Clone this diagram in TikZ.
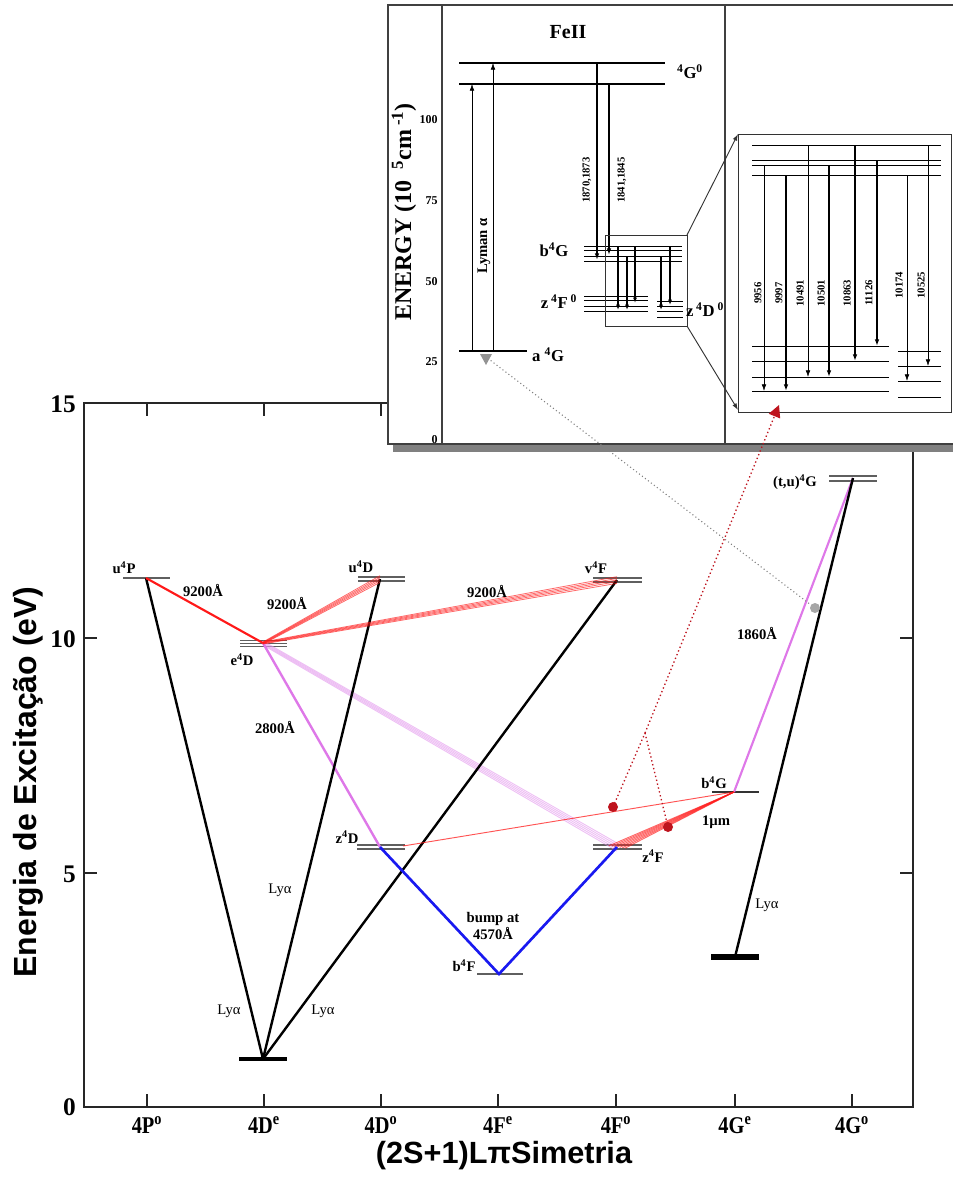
\documentclass[tikz,border=0pt]{standalone}
\usepackage{fontspec}
\setmainfont{Liberation Serif}
\newfontfamily\axfont{Liberation Sans}
\newfontfamily\condserif[FakeStretch=0.85]{Liberation Serif}
\usetikzlibrary{arrows.meta}
\definecolor{lvlgray}{RGB}{95,95,95}
\definecolor{myred}{RGB}{255,25,25}
\definecolor{myviolet}{RGB}{222,120,232}
\definecolor{lightviolet}{RGB}{226,150,236}
\definecolor{myblue}{RGB}{25,25,240}
\definecolor{dotred}{RGB}{190,20,30}
\definecolor{shadowgray}{RGB}{128,128,128}
\begin{document}
\begin{tikzpicture}[x=0.75pt,y=-0.75pt,
  lbl/.style={font=\fontsize{11}{12}\selectfont\bfseries, inner sep=0pt},
  ilbl/.style={font=\fontsize{12.5}{14}\selectfont\bfseries, inner sep=0pt},
  wl/.style={font=\fontsize{8}{9}\selectfont\bfseries, inner sep=0pt, rotate=90},
  ytl/.style={font=\fontsize{19}{20}\selectfont\bfseries, inner sep=0pt, anchor=east},
  xtl/.style={font=\condserif\fontsize{18}{20}\selectfont\bfseries, inner sep=0pt},
  itl/.style={font=\fontsize{9}{10}\selectfont\bfseries, inner sep=0pt, anchor=east},
  frame/.style={line width=1.5pt, draw=black!85},
  bar/.style={draw=lvlgray, line width=0.9pt},
  lya/.style={draw=black, line width=1.8pt},
  redband/.style={draw=myred, line width=0.6pt, opacity=0.65},
  vioband/.style={draw=lightviolet, line width=0.7pt, opacity=0.6},
  thinlev/.style={draw=black, line width=0.6pt},
  arr/.style={-{Latex[length=5pt,width=3.5pt]}},
  thinarr/.style={draw=black, line width=0.5pt, arr},
  thickarr/.style={draw=black, line width=1.4pt, arr},
]
\useasboundingbox (0,0) rectangle (953,1178);

% ---------------- main plot frame ----------------
\draw[frame] (84,403) rectangle (913,1107);
\foreach \x in {147,264,381,498,616,735,852}{
  \draw[frame, line width=1pt] (\x,1107) -- (\x,1094);
  \draw[frame, line width=1pt] (\x,403) -- (\x,416);
}
\foreach \y in {638,873}{
  \draw[frame, line width=1pt] (84,\y) -- (97,\y);
  \draw[frame, line width=1pt] (913,\y) -- (900,\y);
}
\node[ytl] (t15) at (76,404) {15};
\node[ytl] (t10) at (76,639) {10};
\node[ytl] (t5)  at (76,874) {5};
\node[ytl] (t0)  at (76,1107) {0};

\node[xtl] (x1) at (147,1125) {4P\textsuperscript{o}};
\node[xtl] (x2) at (264,1125) {4D\textsuperscript{e}};
\node[xtl] (x3) at (381,1125) {4D\textsuperscript{o}};
\node[xtl] (x4) at (498,1125) {4F\textsuperscript{e}};
\node[xtl] (x5) at (616,1125) {4F\textsuperscript{o}};
\node[xtl] (x6) at (735,1125) {4G\textsuperscript{e}};
\node[xtl] (x7) at (852,1125) {4G\textsuperscript{o}};

\node[font=\axfont\bfseries\fontsize{23}{26}\selectfont, inner sep=0pt] (xlab) at (504,1156) {(2S+1)LπSimetria};
\node[font=\axfont\bfseries\fontsize{24}{26}\selectfont, inner sep=0pt, rotate=90] (ylab) at (28,782) {Energia de Excitação (eV)};

% ---------------- level coordinates ----------------
\coordinate (u4P) at (146,578);
\coordinate (e4D) at (263,643);
\coordinate (u4D) at (380,579);
\coordinate (v4F) at (617,580);
\coordinate (z4D) at (380,847);
\coordinate (z4Dr) at (403,846);
\coordinate (z4F) at (617,847);
\coordinate (b4F) at (499,974);
\coordinate (b4G) at (734,792);
\coordinate (tu4G) at (853,478);
\coordinate (gD) at (263,1059);
\coordinate (gG) at (735,957);

% bars
\draw[bar] (123,578) -- (170,578);
\foreach \y in {640,643,646}{\draw[bar, line width=0.7pt] (240,\y) -- (287,\y);}
\foreach \y in {577,581}{\draw[bar] (358,\y) -- (405,\y);}
\foreach \y in {578,582}{\draw[bar] (593,\y) -- (642,\y);}
\foreach \y in {845,849}{\draw[bar] (357,\y) -- (405,\y);}
\foreach \y in {845,849}{\draw[bar] (593,\y) -- (642,\y);}
\draw[bar, line width=1.6pt] (477,974) -- (523,974);
\draw[draw=black!80, line width=1pt] (712,792) -- (759,792);
\foreach \y in {476,481}{\draw[bar] (829,\y) -- (877,\y);}
\draw[black, line width=3.5pt] (239,1059) -- (287,1059);
\draw[black, line width=4pt] (711,957) -- (759,957);

% ---------------- transitions ----------------
% violet band e4D -> z4F
\foreach \o in {-3,-1.5,0,1.5,3}{
  \draw[vioband] ([yshift=\o*0.5 pt]e4D) -- ([yshift=\o pt]z4F);
}
\draw[myviolet, line width=1.8pt] (e4D) -- (z4D);
\draw[myviolet, line width=1.6pt] (b4G) -- (tu4G);
% Ly alpha
\draw[lya] (u4P) -- (gD);
\draw[lya] (u4D) -- (gD);
\draw[lya] (v4F) -- (gD);
\draw[lya] (tu4G) -- (gG);
% red
\draw[myred, line width=1.6pt] (u4P) -- (e4D);
\foreach \o in {-2.5,-1.2,0,1.2,2.5}{
  \draw[redband] ([yshift=\o*0.3 pt]e4D) -- ([yshift=\o pt]u4D);
  \draw[redband] ([yshift=\o*0.3 pt]e4D) -- ([yshift=\o pt]v4F);
}
\draw[myred, line width=0.7pt, opacity=0.75] (z4Dr) -- (b4G);
\foreach \o in {-6,-4,-2,0,2,4,6}{
  \draw[redband, line width=0.7pt] ([xshift=\o pt, yshift=-\o*0.15 pt]z4F) -- (b4G);
}
% blue
\draw[myblue, line width=2pt] (z4D) -- (b4F) -- (z4F);

% labels
\node[lbl] (lu4P) at (124,568) {u\textsuperscript{4}P};
\node[lbl] (le4D) at (242,660) {e\textsuperscript{4}D};
\node[lbl] (lu4D) at (361,567) {u\textsuperscript{4}D};
\node[lbl] (lv4F) at (596,568) {v\textsuperscript{4}F};
\node[lbl] (lz4D) at (347,837) {z\textsuperscript{4}D};
\node[lbl] (lz4F) at (653,856) {z\textsuperscript{4}F};
\node[lbl] (lb4F) at (464,966) {b\textsuperscript{4}F};
\node[lbl] (lb4G) at (714,783) {b\textsuperscript{4}G};
\node[lbl] (ltu4G) at (795,482) {(t,u)\textsuperscript{4}G};
\node[lbl] (w1) at (203,590) {9200Å};
\node[lbl] (w2) at (287,603) {9200Å};
\node[lbl] (w3) at (487,591) {9200Å};
\node[lbl] (w4) at (275,727) {2800Å};
\node[lbl] (w5) at (757,633) {1860Å};
\node[lbl] (w6) at (716,822) {1µm};
\node[lbl, align=center] (w7) at (493,926) {bump at\\[1pt]4570Å};
\node[lbl, font=\fontsize{11}{12}\selectfont] (ly1) at (229,1011) {Lyα};
\node[lbl, font=\fontsize{11}{12}\selectfont] (ly2) at (280,890) {Lyα};
\node[lbl, font=\fontsize{11}{12}\selectfont] (ly3) at (323,1011) {Lyα};
\node[lbl, font=\fontsize{11}{12}\selectfont] (ly4) at (767,905) {Lyα};

% ---------------- inset ----------------
\fill[shadowgray] (393,444) rectangle (960,452);
\filldraw[fill=white, draw=black!75, line width=0.8pt] (388,5) rectangle (962,444);
\draw[black!75, line width=0.8pt] (442,5) -- (442,444);
\draw[black!75, line width=0.8pt] (725,5) -- (725,444);

\node[font=\fontsize{15}{16}\selectfont\bfseries, inner sep=0pt] (feii) at (568,32) {FeII};
\node[font=\fontsize{18}{19}\selectfont\bfseries, inner sep=0pt, rotate=90] (elab) at (404,212)
  {ENERGY (10\hspace{8pt}\textsuperscript{5}cm\,\textsuperscript{-1})};
\node[itl] (i100) at (438,120) {100};
\node[itl] (i75) at (438,201) {75};
\node[itl] (i50) at (438,282) {50};
\node[itl] (i25) at (438,362) {25};
\node[itl] (i0) at (438,440) {0};

% inset levels
\draw[black, line width=1.5pt] (459,63) -- (665,63);
\draw[black, line width=1.5pt] (459,84) -- (665,84);
\draw[black, line width=1.8pt] (459,351) -- (527,351);
\coordinate (aG1) at (472,351); \coordinate (aG2) at (493,351);
\coordinate (G1) at (472,84);  \coordinate (G2) at (493,63);
\draw[thinarr] (aG1) -- (G1);
\draw[thinarr] (aG2) -- (G2);
\coordinate (d1s) at (597,63); \coordinate (d1e) at (597,260);
\coordinate (d2s) at (609,84); \coordinate (d2e) at (609,255);
\draw[black, line width=1.1pt, arr] (d1s) -- (d1e);
\draw[black, line width=1.1pt, arr] (d2s) -- (d2e);
\foreach \y in {246,250,256,261}{\draw[thinlev] (584,\y) -- (682,\y);}
\foreach \y in {296,300,306,311}{\draw[thinlev] (584,\y) -- (648,\y);}
\foreach \y in {301,306,311,317}{\draw[thinlev] (657,\y) -- (683,\y);}
\draw[black!80, line width=0.7pt] (605,235) rectangle (687,326);
\foreach \x/\a/\b in {618/246/310, 627/256/310, 635/246/303, 661/256/310, 670/246/305}{
  \draw[black, line width=1.1pt, -{Latex[length=4pt,width=3pt]}] (\x,\a) -- (\x,\b);
}
\node[ilbl] (ilG) at (690,72) {\textsuperscript{4}G\textsuperscript{0}};
\node[ilbl] (ilb) at (554,250) {b\textsuperscript{4}G};
\node[ilbl] (ilzf) at (559,302) {z\,\textsuperscript{4}F\,\textsuperscript{0}};
\node[ilbl] (ilzd) at (705,310) {z\,\textsuperscript{4}D\,\textsuperscript{0}};
\node[ilbl] (ila) at (548,355) {a \textsuperscript{4}G};
\node[font=\fontsize{11}{12}\selectfont\bfseries, inner sep=0pt, rotate=90] (lyman) at (484,246) {Lyman α};
\node[wl, font=\fontsize{8}{9}\selectfont\bfseries] (l1870) at (587,180) {1870,1873};
\node[wl, font=\fontsize{8}{9}\selectfont\bfseries] (l1841) at (622,180) {1841,1845};

% zoom box
\draw[black!80, line width=0.7pt] (738,134) rectangle (951,412);
\draw[black!80, line width=0.7pt, arr] (687,235) -- (738,134);
\draw[black!80, line width=0.7pt, arr] (687,326) -- (738,410);
\foreach \y in {145,160,165,175}{\draw[thinlev] (752,\y) -- (941,\y);}
\foreach \y in {346,361,377,391}{\draw[thinlev] (752,\y) -- (889,\y);}
\foreach \y in {351,366,381,397}{\draw[thinlev] (898,\y) -- (941,\y);}
\draw[thinarr] (764,165) -- (764,391);
\draw[thickarr] (786,175) -- (786,391);
\draw[thinarr] (808,145) -- (808,377);
\draw[thickarr] (829,165) -- (829,377);
\draw[thickarr] (855,145) -- (855,361);
\draw[thickarr] (877,160) -- (877,346);
\draw[thinarr] (907,175) -- (907,381);
\draw[thinarr] (928,145) -- (928,366);
\node[wl] (n1) at (758,293) {9956};
\node[wl] (n2) at (779,293) {9997};
\node[wl] (n3) at (800,293) {10491};
\node[wl] (n4) at (821,293) {10501};
\node[wl] (n5) at (847,293) {10863};
\node[wl] (n6) at (869,293) {11126};
\node[wl] (n7) at (899,285) {10174};
\node[wl] (n8) at (921,285) {10525};

% ---------------- pointers ----------------
\coordinate (reddot1) at (613,807);
\coordinate (reddot2) at (668,827);
\coordinate (junc) at (645,733);
\coordinate (redtip) at (779,405);
\coordinate (graydot) at (815,608);
\coordinate (graytip) at (490,360);
\draw[dotred, dotted, line width=1pt] (reddot1) -- (junc);
\draw[dotred, dotted, line width=1pt] (junc) -- (reddot2);
\draw[dotred, dotted, line width=1pt, -{Triangle[length=9pt,width=9pt]}] (junc) -- (redtip);
\draw[gray, dotted, line width=0.8pt] (graydot) -- (graytip);
\fill[gray!85] (480,354) -- (492,354) -- (486,365) -- cycle;
\fill[dotred] (reddot1) circle (5);
\fill[dotred] (reddot2) circle (5);
\fill[gray!70] (graydot) circle (5);
\end{tikzpicture}
\end{document}
